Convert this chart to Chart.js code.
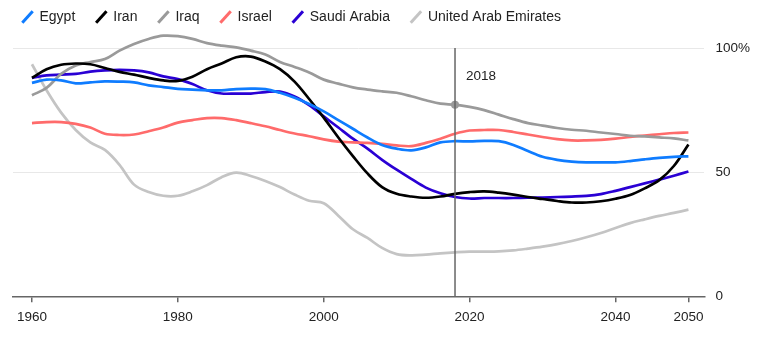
<!DOCTYPE html>
<html>
<head>
<meta charset="utf-8">
<script src="https://cdn.jsdelivr.net/npm/chart.js@4"></script>
<style>
  html, body { margin: 0; padding: 0; background: #fff; }
  #wrap { width: 758px; height: 340px; }
</style>
</head>
<body>
<div id="wrap"><canvas id="chart"></canvas></div>
<script>
// years every two years, 1960-2050
const years = [1960, 1962, 1964, 1966, 1968, 1970, 1972, 1974, 1976, 1978,
  1980, 1982, 1984, 1986, 1988, 1990, 1992, 1994, 1996, 1998,
  2000, 2002, 2004, 2006, 2008, 2010, 2012, 2014, 2016, 2018,
  2020, 2022, 2024, 2026, 2028, 2030, 2032, 2034, 2036, 2038,
  2040, 2042, 2044, 2046, 2048, 2050];

const egypt = [86, 87.3, 87, 85.8, 86.2, 86.6, 86.5, 86.2, 85, 84.3,
  83.6, 83.3, 83, 83, 83.5, 83.7, 83.5, 82, 80, 77.5,
  74.5, 71, 67.5, 64, 61, 59.5, 58.8, 60, 62, 62.5,
  62.4, 62.6, 62.5, 61, 58.5, 56.2, 55, 54.3, 54, 54,
  54, 54.5, 55.2, 55.8, 56.2, 56.4];

const iran = [88, 91.5, 93.3, 93.8, 93.5, 92, 90.4, 89.3, 88, 87,
  86.8, 88.5, 91.5, 93.8, 96.3, 96.6, 94.6, 91.5, 86.5, 79.5,
  72, 64, 56.5, 49.5, 44, 41.3, 40.2, 39.7, 40.2, 41.3,
  42, 42.3, 41.8, 41, 40, 39.2, 38.4, 37.8, 37.8, 38.3,
  39.3, 40.8, 43.5, 46.8, 52.5, 61.2];

const iraq = [81, 84, 89.6, 93, 94.4, 95.6, 99, 101.7, 103.7, 105,
  104.8, 103.7, 102, 101, 100.3, 99, 97.4, 94.4, 92.4, 90.2,
  87.3, 85.7, 84.2, 83.3, 82.6, 82, 80.6, 79, 77.6, 77.2,
  76.3, 75, 73.2, 71.4, 69.8, 68.8, 67.8, 67.1, 66.7, 66,
  65.4, 64.7, 64.4, 64, 63.6, 62.8];

const israel = [69.8, 70.2, 70.2, 69.5, 68, 65.5, 65, 65.2, 66.5, 68,
  70, 71, 71.8, 71.8, 71, 69.8, 68.5, 67, 65.6, 64.5,
  63.2, 62.3, 62, 61.8, 61.4, 60.8, 60.5, 61.8, 63.5, 65.5,
  66.8, 67, 67, 66.2, 65.2, 64.2, 63.3, 62.8, 62.8, 63,
  63.5, 64.2, 64.8, 65.3, 65.8, 66];

const saudi = [88, 89, 89.3, 89.6, 90.5, 91, 91.2, 91, 90.2, 88.6,
  87.5, 85.5, 83, 81.7, 81.7, 81.7, 82.3, 82.5, 80.5, 77,
  72.5, 68, 63.5, 59.5, 55, 51, 47.3, 43.8, 41.5, 40,
  39.4, 39.6, 39.6, 39.6, 39.7, 39.8, 40, 40.2, 40.5, 41.2,
  42.5, 44, 45.5, 47, 48.6, 50.3];

const uae = [93.5, 83, 74, 67, 62, 59, 53, 45, 42, 40.5,
  40.5, 42.3, 44.8, 48, 49.8, 48.5, 46.5, 44, 41, 38.5,
  37.5, 32.5, 27, 23.5, 19.5, 17, 16.5, 16.8, 17.3, 17.7,
  18, 18, 18.1, 18.5, 19.2, 20, 21, 22.3, 23.8, 25.5,
  27.5, 29.5, 31, 32.4, 33.6, 34.9];

const xTicks = [1960, 1980, 2000, 2020, 2040, 2050];
const yTicks = [0, 50, 100];
const markYear = 2018;

const FONT = "'Liberation Sans', Arial, sans-serif";

function series(label, values, color) {
  return {
    label: label,
    data: years.map((yr, i) => ({ x: yr, y: values[i] })),
    borderColor: color,
    backgroundColor: color,
    borderWidth: 2.7,
    pointRadius: 0,
    tension: 0.35,
    fill: false
  };
}

const datasets = [
  series("Egypt", egypt, "#0f7cff"),
  series("Iran", iran, "#000000"),
  series("Iraq", iraq, "#9a9a9a"),
  series("Israel", israel, "#ff6b6b"),
  series("Saudi Arabia", saudi, "#2a00d4"),
  series("United Arab Emirates", uae, "#c4c4c4")
];
// dot on the Iraq line at the marked year
datasets[2].pointRadius = years.map(yr => yr === markYear ? 4 : 0);
datasets[2].pointBorderWidth = 0;

const markLine = {
  id: "markLine",
  afterLayout(chart) {
    // pull the legend up and left, its padding also sets the item gaps
    chart.legend.left = 1.5;
    chart.legend.top = -11;
  },
  afterDatasetsDraw(chart) {
    const { ctx, scales } = chart;
    const x = scales.x.getPixelForValue(markYear);
    const top = scales.y.getPixelForValue(100);
    const bottom = scales.y.getPixelForValue(0);
    ctx.save();
    ctx.strokeStyle = "#666";
    ctx.lineWidth = 1.5;
    ctx.beginPath();
    ctx.moveTo(x, top);
    ctx.lineTo(x, bottom);
    ctx.stroke();
    ctx.fillStyle = "#222";
    ctx.font = "13.5px " + FONT;
    ctx.textBaseline = "middle";
    ctx.fillText(String(markYear), x + 11, top + 28);
    ctx.restore();
  }
};

new Chart(document.getElementById("chart"), {
  type: "line",
  data: { datasets: datasets },
  options: {
    responsive: true,
    maintainAspectRatio: false,
    animation: false,
    layout: { padding: { left: 13, right: -3, top: 0, bottom: 7.5 } },
    plugins: {
      tooltip: { enabled: false },
      legend: {
        position: "top",
        align: "start",
        maxHeight: 29,
        labels: {
          font: { family: FONT, size: 14 },
          color: "#222",
          usePointStyle: true,
          boxWidth: 10,
          boxHeight: 11,
          padding: 21,
          generateLabels(chart) {
            const items = Chart.defaults.plugins.legend.labels.generateLabels(chart);
            items.forEach(it => {
              const ds = chart.data.datasets[it.datasetIndex];
              it.pointStyle = "line";
              it.rotation = -48;
              it.lineWidth = 3;
              it.strokeStyle = ds.borderColor;
              it.fillStyle = ds.borderColor;
            });
            return items;
          }
        }
      }
    },
    scales: {
      x: {
        type: "linear",
        min: 1957.4,
        max: 2052.2,
        afterBuildTicks(axis) { axis.ticks = xTicks.map(v => ({ value: v })); },
        ticks: {
          callback: v => String(v),
          font: { family: FONT, size: 13.5 },
          color: "#222",
          padding: 7,
          maxRotation: 0
        },
        grid: {
          drawOnChartArea: false,
          drawTicks: true,
          tickLength: 6,
          color: "#666",
          lineWidth: 1.5
        },
        border: { display: true, color: "#666", width: 1.5 }
      },
      y: {
        position: "right",
        min: 0,
        max: 107.7,
        afterBuildTicks(axis) { axis.ticks = yTicks.map(v => ({ value: v })); },
        ticks: {
          callback: v => v === 100 ? "100%" : String(v),
          font: { family: FONT, size: 13.5 },
          color: "#222",
          padding: 11
        },
        grid: {
          drawTicks: false,
          color: ctx => ctx.tick && ctx.tick.value === 0 ? "rgba(0,0,0,0)" : "#e8e8e8",
          lineWidth: 1
        },
        border: { display: false }
      }
    }
  },
  plugins: [markLine]
});
</script>
</body>
</html>
